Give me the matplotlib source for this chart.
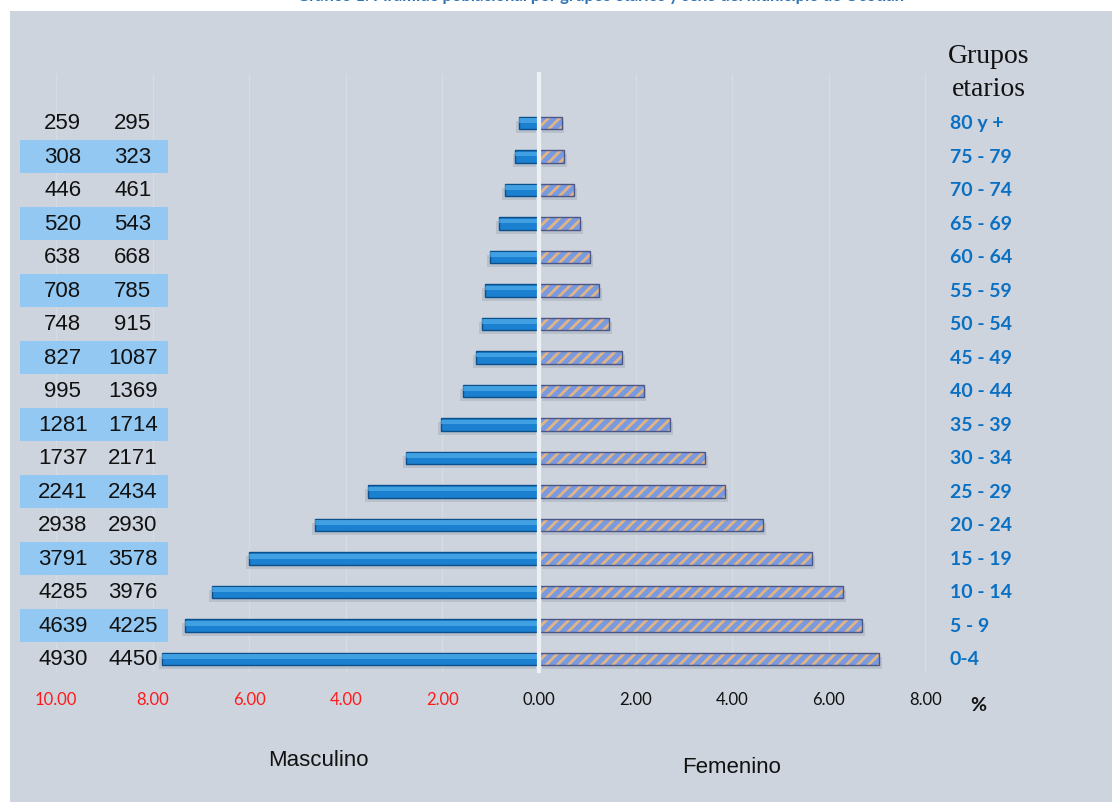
import matplotlib.pyplot as plt
from matplotlib.patches import Rectangle

# Datos de la piramide (de arriba hacia abajo)
grupos = ['80 y +', '75 - 79', '70 - 74', '65 - 69', '60 - 64', '55 - 59',
          '50 - 54', '45 - 49', '40 - 44', '35 - 39', '30 - 34', '25 - 29',
          '20 - 24', '15 - 19', '10 - 14', '5 - 9', '0-4']
hombres = [259, 308, 446, 520, 638, 708, 748, 827, 995, 1281, 1737, 2241,
           2938, 3791, 4285, 4639, 4930]
mujeres = [295, 323, 461, 543, 668, 785, 915, 1087, 1369, 1714, 2171, 2434,
           2930, 3578, 3976, 4225, 4450]
ticks_izq = [-10, -8, -6, -4, -2]
ticks_der = [0, 2, 4, 6, 8]

total = sum(hombres) + sum(mujeres)
pct_h = [h / total * 100 for h in hombres]
pct_m = [m / total * 100 for m in mujeres]

fondo = '#cdd4de'
azul_txt = '#0a70c4'

fig = plt.figure(figsize=(11.12, 8.03), dpi=100)
fig.patch.set_facecolor('white')
# Panel de fondo gris-azulado
fig.patches.append(Rectangle((10 / 1112, 0), 1, (803 - 12) / 803,
                             transform=fig.transFigure, facecolor=fondo,
                             edgecolor='none', zorder=-10))

ax = fig.add_axes([0, 0, 1, 1])
ax.set_facecolor('none')
ax.set_xlim(-539 / 48.3, (1112 - 539) / 48.3)
ax.set_ylim((803 - 124) / 33.5, -124 / 33.5)
ax.axis('off')

filas = list(range(len(grupos)))

# Lineas de la grilla y eje central
for t in ticks_izq + ticks_der[1:]:
    ax.plot([t, t], [-1.46, 16.36], color='#d6dce4', lw=1, zorder=1)
ax.plot([0, 0], [-1.46, 16.36], color='#eef1f4', lw=3, zorder=4)

# Sombras
ax.barh([f + 0.12 for f in filas], [-p for p in pct_h], left=-0.06, height=0.38,
        color='#9ea8b4', alpha=0.45, zorder=2)
ax.barh([f + 0.12 for f in filas], pct_m, left=0.06, height=0.38,
        color='#9ea8b4', alpha=0.45, zorder=2)

# Barras masculinas
ax.barh(filas, [-p for p in pct_h], height=0.38, color='#1b80cf',
        edgecolor='#0d4f8a', lw=1, zorder=3)
ax.barh([f - 0.07 for f in filas], [-p for p in pct_h], height=0.14,
        color='#5ab6f0', alpha=0.6, lw=0, zorder=3)

# Barras femeninas (rayadas)
plt.rcParams['hatch.linewidth'] = 2.0
ax.barh(filas, pct_m, height=0.38, color='#7a9ae0', edgecolor='#e2b484',
        hatch='///', lw=0, zorder=3)
ax.barh(filas, pct_m, height=0.38, color='none', edgecolor='#4a5788',
        lw=1, zorder=3)

# Tabla de valores a la izquierda
for i in filas:
    if i % 2 == 1:
        ax.add_patch(Rectangle((-10.75, i - 0.49), 3.07, 0.98,
                               facecolor='#92c8f2', edgecolor='none', zorder=1))
    ax.text(-9.86, i, str(hombres[i]), ha='center', va='center', fontsize=16,
            family='Liberation Sans', color='#111111')
    ax.text(-8.41, i, str(mujeres[i]), ha='center', va='center', fontsize=16,
            family='Liberation Sans', color='#111111')
    # Etiquetas de grupos etarios
    ax.text(8.5, i, grupos[i], ha='left', va='center', fontsize=14,
            fontweight='bold', family='Lato', color=azul_txt)

# Etiquetas del eje x
y_tick = (700 - 124) / 33.5
for t in ticks_izq:
    ax.text(t, y_tick, '%.2f' % abs(t), ha='center', va='center', fontsize=12,
            family='Lato', color='#ff1a1a')
for t in ticks_der:
    ax.text(t, y_tick, '%.2f' % t, ha='center', va='center', fontsize=12,
            family='Lato', color='#111111')
ax.text(9.1, (706 - 124) / 33.5, '%', ha='center', va='center', fontsize=14,
        fontweight='bold', family='Lato', color='#111111')

# Textos
ax.text((989 - 539) / 48.3, (57 - 124) / 33.5, 'Grupos', ha='center', va='center',
        fontsize=20, family='Liberation Serif', color='#111111')
ax.text((989 - 539) / 48.3, (90 - 124) / 33.5, 'etarios', ha='center', va='center',
        fontsize=20, family='Liberation Serif', color='#111111')
ax.text((318 - 539) / 48.3, (761 - 124) / 33.5, 'Masculino', ha='center',
        va='center', fontsize=16, family='Liberation Sans', color='#111111')
ax.text((732 - 539) / 48.3, (768 - 124) / 33.5, 'Femenino', ha='center',
        va='center', fontsize=16, family='Liberation Sans', color='#111111')

# Titulo (recortado en la parte superior)
fig.text(0.54, 1.005, 'Gráfico 1. Pirámide poblacional por grupos etarios y sexo del municipio de Ocotlán',
         ha='center', va='center', fontsize=12, fontweight='bold',
         family='Lato', color='#2e75b6')

fig.savefig('out.png', dpi=100)
